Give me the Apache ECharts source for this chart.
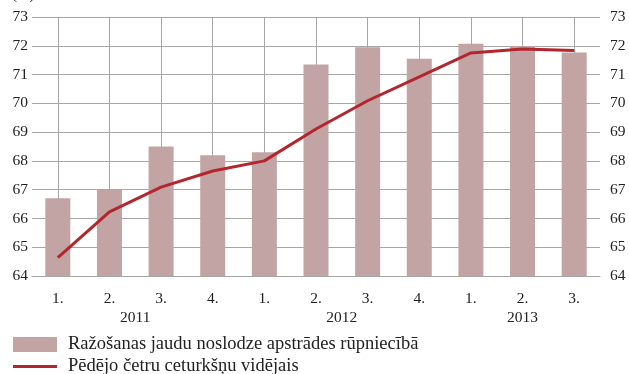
<!DOCTYPE html>
<html>
<head>
<meta charset="utf-8">
<script src="https://cdn.jsdelivr.net/npm/echarts@6/dist/echarts.min.js"></script>
<style>html,body{margin:0;padding:0;background:#fff}#c{width:629px;height:374px}</style>
</head>
<body>
<div id="c"></div>
<script>
var quarters = ['1.', '2.', '3.', '4.', '1.', '2.', '3.', '4.', '1.', '2.', '3.'];
var years = ['2011', '2012', '2013'];
var yearPositions = [1.5, 5.5, 9];
var utilization = [66.7, 67.0, 68.5, 68.2, 68.3, 71.35, 71.95, 71.55, 72.07, 71.98, 71.77];
var fourQuarterAvg = [64.64, 66.23, 67.09, 67.65, 68.0, 69.11, 70.09, 70.92, 71.75, 71.89, 71.84];
var barName = 'Ražošanas jaudu noslodze apstrādes rūpniecībā';
var lineName = 'Pēdējo četru ceturkšņu vidējais';

var font = '"Liberation Serif", "DejaVu Serif", serif';
var gridColor = '#a6a6a6';
var barColor = '#c2a4a4';
var lineColor = '#b3262e';
var legendText = { fontFamily: font, fontSize: 18.5, color: '#222', padding: [0, 0, 0, 6] };
var chart = echarts.init(document.getElementById('c'));
chart.setOption({
  animation: false,
  textStyle: { fontFamily: font },
  graphic: [{
    type: 'text', left: 12, top: -12,
    style: { text: '(%)', font: '15px ' + font, fill: '#222' }
  }],
  legend: [{
    orient: 'vertical', left: 13, top: 335, padding: 0,
    itemWidth: 44, itemHeight: 15,
    textStyle: legendText,
    data: [{ name: barName, icon: 'rect' }]
  }, {
    orient: 'vertical', left: 13, top: 357, padding: 0,
    itemWidth: 44, itemHeight: 3,
    textStyle: legendText,
    data: [{ name: lineName, icon: 'rect', itemStyle: { color: lineColor } }]
  }],
  grid: { left: 32, right: 29, top: 17, bottom: 98 },
  xAxis: [{
    type: 'category', data: quarters, boundaryGap: true,
    axisLine: { lineStyle: { color: gridColor, width: 1 } },
    axisTick: { alignWithLabel: true, length: 4, lineStyle: { color: gridColor } },
    axisLabel: { color: '#222', fontSize: 15.5, margin: 15, fontFamily: font, interval: 0 },
    splitLine: { show: true, alignWithLabel: true, lineStyle: { color: gridColor, width: 1 } }
  }, {
    type: 'value', min: -0.5, max: 10.5, position: 'bottom',
    axisLine: { show: false }, axisTick: { show: false }, splitLine: { show: false },
    axisLabel: {
      show: true, customValues: yearPositions, margin: 34, color: '#222', fontSize: 15.5, fontFamily: font,
      formatter: function (v) { var i = yearPositions.indexOf(v); return i >= 0 ? years[i] : ''; }
    }
  }],
  yAxis: [{
    type: 'value', min: 64, max: 73, interval: 1, position: 'left',
    axisLine: { show: false }, axisTick: { show: false },
    axisLabel: { color: '#222', fontSize: 15.5, margin: 4, fontFamily: font },
    splitLine: { show: true, lineStyle: { color: gridColor, width: 1 } }
  }, {
    type: 'value', min: 64, max: 73, interval: 1, position: 'right',
    axisLine: { show: false }, axisTick: { show: false },
    axisLabel: { color: '#222', fontSize: 15.5, margin: 10, fontFamily: font },
    splitLine: { show: false }
  }],
  series: [{
    name: barName, type: 'bar', data: utilization, barWidth: 25,
    itemStyle: { color: barColor }
  }, {
    name: lineName, type: 'line', data: fourQuarterAvg, symbol: 'none',
    lineStyle: { color: lineColor, width: 3 }, itemStyle: { color: lineColor }
  }]
});
</script>
</body>
</html>
